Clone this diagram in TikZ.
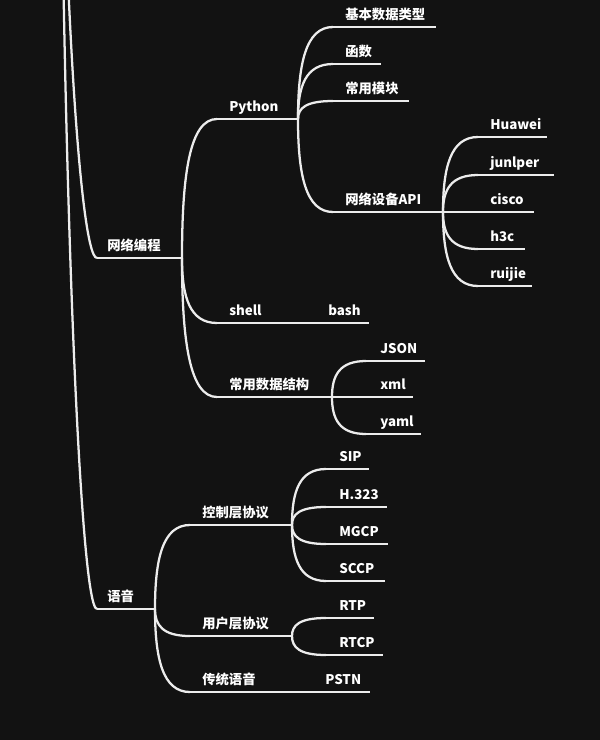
\documentclass[tikz,border=0pt]{standalone}
\usepackage{fontspec}
\setmainfont{Noto Sans CJK SC}
\usepackage{xcolor}
\usepackage{tikz}
\usetikzlibrary{calc}

\definecolor{bgdark}{HTML}{121212}
\definecolor{linewhite}{HTML}{ECECEC}

\tikzset{
  stem/.style={draw=linewhite, line width=1.7pt},
  topic/.style={anchor=base west, inner sep=0pt, text=white,
                font=\fontsize{10}{12}\selectfont\bfseries},
  curve/.style 2 args={to path={.. controls
      ($(\tikztostart)!#1!(\tikztostart |- \tikztotarget)$) and
      ($(\tikztostart |- \tikztotarget)!#2!(\tikztotarget)$) .. (\tikztotarget)}},
  branch/.style={curve={0.6}{0.22}},
  rootbranch/.style={curve={0.5}{0.5}}
}

\begin{document}
\begin{tikzpicture}[x=0.75pt,y=-0.75pt]

  % ==========================================
  % Background and frame
  % ==========================================
  \fill[bgdark] (0,0) rectangle (600,740);
  \useasboundingbox (0,0) rectangle (600,740);
  \clip (0,0) rectangle (600,740);

  % root sits above the visible part
  \coordinate (root-e) at (60,-400);

  % ==========================================
  % Topics: name / line start / line end / line y / text x / text
  % ==========================================
  \foreach \n/\xa/\xb/\y/\tx/\t in {
      wl/97/182/258/107/网络编程,
      yy/97/155/609/107/语音,
      py/217/298/119/229/Python,
      sh/217/281/323/229/shell,
      bs/281/369/323/328/bash,
      sj/217/332/397/229/常用数据结构,
      jb/333/436/27/345/基本数据类型,
      hs/333/381/64/345/函数,
      mk/333/409/101/345/常用模块,
      api/333/443/212/345/网络设备API,
      hw/478/547/137/490/Huawei,
      jn/478/554/175/490/junlper,
      cs/443/534/212/490/cisco,
      hc/478/525/249/490/h3c,
      rj/478/532/286/490/ruijie,
      js/366/425/361/380/JSON,
      xm/332/413/397/380/xml,
      ym/366/421/434/380/yaml,
      kz/190/292/525/202/控制层协议,
      yh/190/292/636/202/用户层协议,
      ct/190/278/692/202/传统语音,
      sip/326/369/469/339/SIP,
      hx/326/387/507/339/H.323,
      mg/326/388/544/339/MGCP,
      sc/326/385/581/339/SCCP,
      rtp/326/374/618/339/RTP,
      rtcp/326/383/655/339/RTCP,
      ps/278/370/692/325/PSTN}
  {
    \coordinate (\n-s) at (\xa,\y);
    \coordinate (\n-e) at (\xb,\y);
    \draw[stem] (\n-s) -- (\n-e);
    \node[topic] (\n) at (\tx,\y-8) {\t};
  }

  % ==========================================
  % Curved branches (parent end -> child start)
  % ==========================================
  \draw[stem] (root-e) to[rootbranch] (wl-s);
  \draw[stem] (root-e) to[rootbranch] (yy-s);

  \foreach \p/\c in {wl/py, wl/sh, wl/sj,
      py/jb, py/hs, py/mk, py/api,
      api/hw, api/jn, api/hc, api/rj,
      sj/js, sj/ym,
      yy/kz, yy/yh, yy/ct,
      kz/sip, kz/hx, kz/mg, kz/sc,
      yh/rtp, yh/rtcp}
    \draw[stem] (\p-e) to[branch] (\c-s);

\end{tikzpicture}
\end{document}
